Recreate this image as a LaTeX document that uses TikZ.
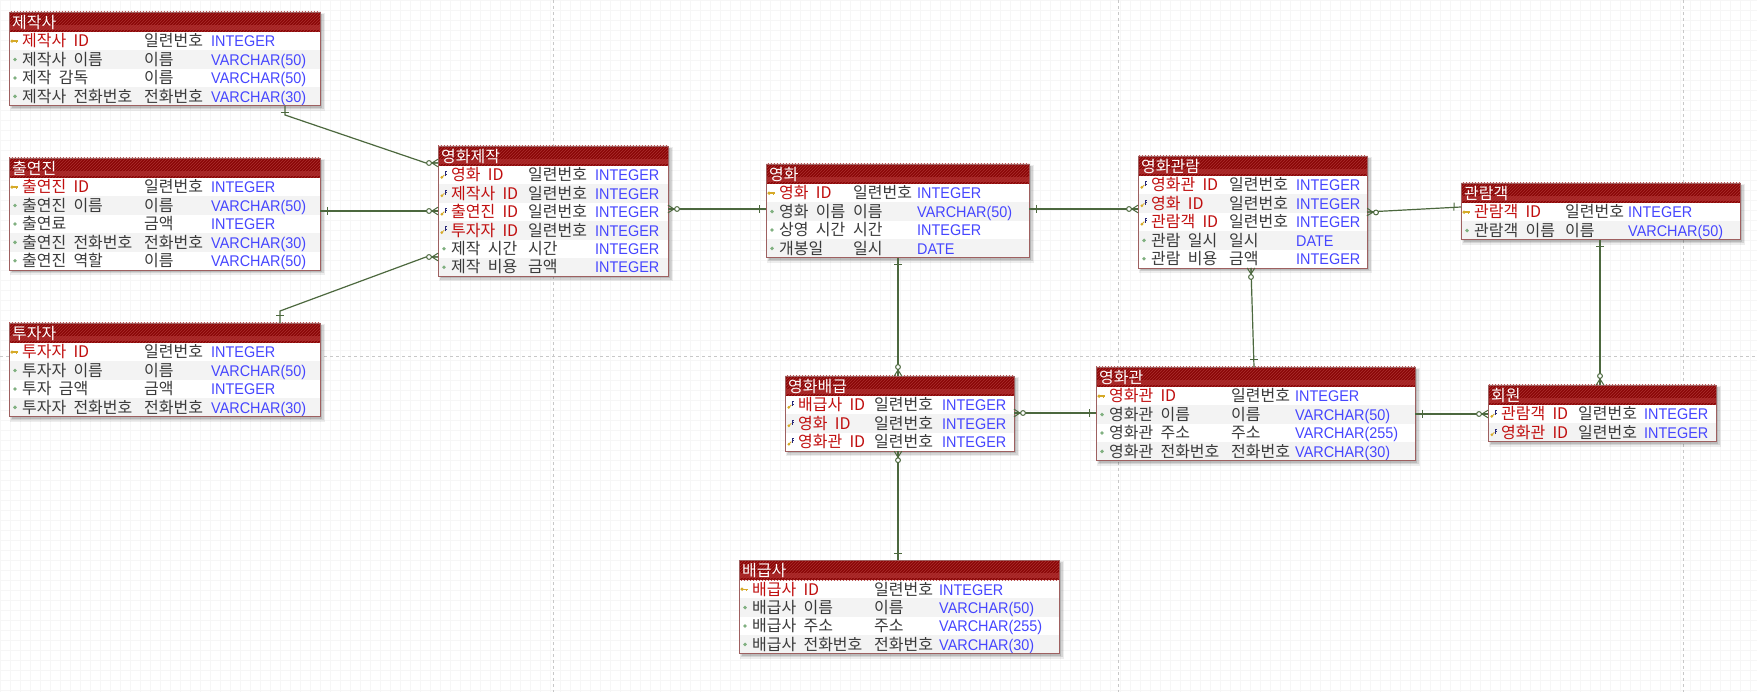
\documentclass[tikz,border=0pt]{standalone}
\usepackage{fontspec}
\setmainfont[WordSpace=2.0]{Noto Sans CJK KR}
\newfontfamily\typefont[FakeStretch=0.93]{Liberation Sans}
\usetikzlibrary{patterns}

\definecolor{hdr}{RGB}{138,6,6}
\definecolor{hdrhatch}{RGB}{172,48,48}
\definecolor{hdrband}{RGB}{190,60,60}
\definecolor{hdrtop}{RGB}{200,110,110}
\definecolor{keyred}{RGB}{192,14,14}
\definecolor{txtgray}{RGB}{58,58,58}
\definecolor{typeblue}{RGB}{70,70,255}
\definecolor{rowgray}{RGB}{243,243,243}
\definecolor{edgecol}{RGB}{158,96,96}
\definecolor{relgreen}{RGB}{76,104,62}
\definecolor{keygold}{RGB}{214,170,40}
\definecolor{fkblue}{RGB}{40,40,120}
\definecolor{dotgreen}{RGB}{128,176,128}
\definecolor{gridcol}{RGB}{246,246,246}
\definecolor{pagedash}{RGB}{200,200,200}

\tikzset{
  rel/.style={draw=relgreen, line width=1.2pt},
  cellname/.style={anchor=base west, inner sep=0pt, font=\fontsize{16}{18}\selectfont},
  celldom/.style={anchor=base west, inner sep=0pt, text=txtgray, font=\fontsize{16}{18}\selectfont},
  celltype/.style={anchor=base west, inner sep=0pt, text=typeblue, font=\typefont\fontsize{15.5}{17}\selectfont},
  tabtitle/.style={anchor=base west, inner sep=0pt, text=white, font=\fontsize{16}{18}\selectfont},
  tablebox/.style={anchor=north west, fill=white, inner sep=0pt, outer sep=0pt},
  % zero-or-many end: crow's foot at the table edge, ring further out
  crowfoot/.pic={
    \draw[rel, line width=1pt] (0,-3.8) -- (6,0) (0,0) -- (6,0) (0,3.8) -- (6,0) -- (6.6,0);
    \draw[rel, line width=1pt, fill=white] (9,0) circle (2.4);
  },
  % exactly-one end: single bar across the line
  onebar/.pic={
    \draw[rel, line width=1pt] (7,-4) -- (7,4);
  }
}

% #1 node name, #2 left, #3 top, #4 width, #5 title,
% #6 domain column x, #7 type column x, #8 rows (kind/name/domain/type)
\newcommand\ertable[8]{%
  \foreach \ic/\nm/\dm/\ty [count=\k] in {#8} {\xdef\nrows{\k}}%
  \pgfmathsetmacro\tabh{20+\nrows*18.4}%
  \fill[black, opacity=.07] (#2+1,#3+1) rectangle (#2+#4+5,#3+\tabh+5);
  \fill[black, opacity=.10] (#2+2,#3+2) rectangle (#2+#4+3.5,#3+\tabh+3.5);
  \fill[black, opacity=.12] (#2+2.5,#3+2.5) rectangle (#2+#4+2,#3+\tabh+2);
  \node[tablebox, minimum width=#4pt, minimum height=\tabh pt] (#1) at (#2,#3) {};
  % title bar
  \fill[hdr] (#2,#3) rectangle (#2+#4,#3+20);
  \fill[hdrband, opacity=.55] (#2,#3+13) rectangle (#2+#4,#3+18);
  \fill[pattern=north east lines, pattern color=hdrhatch] (#2,#3) rectangle (#2+#4,#3+20);
  \draw[hdrtop, line width=1pt] (#2,#3+0.6) -- (#2+#4,#3+0.6);
  \node[tabtitle] (#1-title) at (#2+3,#3+16.5) {#5};
  % attribute rows
  \foreach \ic/\nm/\dm/\ty [count=\k] in {#8} {
    \pgfmathsetmacro\ry{#3+20+(\k-1)*18.4}
    \pgfmathsetmacro\cx{#2+6}
    \pgfmathsetmacro\cy{\ry+9.2}
    \ifodd\k\else \fill[rowgray] (#2,\ry) rectangle (#2+#4,\ry+18.4); \fi
    \def\nmcol{keyred}
    \if a\ic
      \def\nmcol{txtgray}
      \fill[dotgreen] (\cx,\cy) circle (1.9);
    \fi
    \if p\ic
      \fill[keygold] (\cx-3,\cy) circle (1.8);
      \fill[keygold] (\cx-2,\cy-0.7) rectangle (\cx+3,\cy+0.7);
      \fill[keygold] (\cx+1.4,\cy) rectangle (\cx+2.4,\cy+2.2);
    \fi
    \if f\ic
      \fill[keygold] (\cx-2.2,\cy+2.2) circle (1.5);
      \draw[keygold, line width=.8pt] (\cx-2.2,\cy+2.2) -- (\cx+0.3,\cy-0.3);
      \draw[fkblue, line width=.6pt] (\cx+1,\cy+1) -- (\cx+1,\cy-3.6) -- (\cx+3.3,\cy-3.6)
        (\cx+1,\cy-1.3) -- (\cx+2.8,\cy-1.3);
    \fi
    \node[cellname, text=\nmcol] (#1-n\k) at (#2+13,\ry+15) {\nm};
    \node[celldom] (#1-d\k) at (#6,\ry+15) {\dm};
    \node[celltype] (#1-t\k) at (#7,\ry+15) {\ty};
  }
  \draw[edgecol, line width=.8pt] (#1.north west) rectangle (#1.south east);
}

\begin{document}
\begin{tikzpicture}[x=1pt, y=-1pt]
\useasboundingbox (0,0) rectangle (1757,692);
\fill[white] (0,0) rectangle (1757,692);
\draw[gridcol, line width=.4pt, step=10pt] (0,0) grid (1757,692);
\draw[pagedash, line width=.8pt, dash pattern=on 3pt off 3pt]
  (553,0) -- (553,692) (1118,0) -- (1118,692) (1683,0) -- (1683,692) (0,356) -- (1757,356);

\ertable{jejaksa}{9}{12}{311}{제작사}{144}{211}{%
  p/제작사 ID/일련번호/INTEGER,
  a/제작사 이름/이름/VARCHAR(50),
  a/제작 감독/이름/VARCHAR(50),
  a/제작사 전화번호/전화번호/VARCHAR(30)}

\ertable{chulyeon}{9}{158}{311}{출연진}{144}{211}{%
  p/출연진 ID/일련번호/INTEGER,
  a/출연진 이름/이름/VARCHAR(50),
  a/출연료/금액/INTEGER,
  a/출연진 전화번호/전화번호/VARCHAR(30),
  a/출연진 역할/이름/VARCHAR(50)}

\ertable{tuja}{9}{323}{311}{투자자}{144}{211}{%
  p/투자자 ID/일련번호/INTEGER,
  a/투자자 이름/이름/VARCHAR(50),
  a/투자 금액/금액/INTEGER,
  a/투자자 전화번호/전화번호/VARCHAR(30)}

\ertable{jejak}{438}{146}{230}{영화제작}{528}{595}{%
  f/영화 ID/일련번호/INTEGER,
  f/제작사 ID/일련번호/INTEGER,
  f/출연진 ID/일련번호/INTEGER,
  f/투자자 ID/일련번호/INTEGER,
  a/제작 시간/시간/INTEGER,
  a/제작 비용/금액/INTEGER}

\ertable{movie}{766}{164}{263}{영화}{853}{917}{%
  p/영화 ID/일련번호/INTEGER,
  a/영화 이름/이름/VARCHAR(50),
  a/상영 시간/시간/INTEGER,
  a/개봉일/일시/DATE}

\ertable{gwanram}{1138}{156}{229}{영화관람}{1229}{1296}{%
  f/영화관 ID/일련번호/INTEGER,
  f/영화 ID/일련번호/INTEGER,
  f/관람객 ID/일련번호/INTEGER,
  a/관람 일시/일시/DATE,
  a/관람 비용/금액/INTEGER}

\ertable{audience}{1461}{183}{279}{관람객}{1565}{1628}{%
  p/관람객 ID/일련번호/INTEGER,
  a/관람객 이름/이름/VARCHAR(50)}

\ertable{baegeup}{785}{376}{229}{영화배급}{874}{942}{%
  f/배급사 ID/일련번호/INTEGER,
  f/영화 ID/일련번호/INTEGER,
  f/영화관 ID/일련번호/INTEGER}

\ertable{theater}{1096}{367}{319}{영화관}{1231}{1295}{%
  p/영화관 ID/일련번호/INTEGER,
  a/영화관 이름/이름/VARCHAR(50),
  a/영화관 주소/주소/VARCHAR(255),
  a/영화관 전화번호/전화번호/VARCHAR(30)}

\ertable{member}{1488}{385}{228}{회원}{1578}{1644}{%
  f/관람객 ID/일련번호/INTEGER,
  f/영화관 ID/일련번호/INTEGER}

\ertable{distrib}{739}{560}{320}{배급사}{874}{939}{%
  p/배급사 ID/일련번호/INTEGER,
  a/배급사 이름/이름/VARCHAR(50),
  a/배급사 주소/주소/VARCHAR(255),
  a/배급사 전화번호/전화번호/VARCHAR(30)}

% relationships
\draw[rel] (jejaksa.south -| 285,0) -- (285,115) -- (426,163) -- (jejak.west |- 0,163);
\pic[rotate=-90] at (jejaksa.south -| 285,0) {onebar};
\pic[rotate=180] at (jejak.west |- 0,163) {crowfoot};

\draw[rel] (chulyeon.east |- 0,211) -- (jejak.west |- 0,211);
\pic at (chulyeon.east |- 0,211) {onebar};
\pic[rotate=180] at (jejak.west |- 0,211) {crowfoot};

\draw[rel] (tuja.north -| 280,0) -- (280,311) -- (426,257) -- (jejak.west |- 0,257);
\pic[rotate=90] at (tuja.north -| 280,0) {onebar};
\pic[rotate=180] at (jejak.west |- 0,257) {crowfoot};

\draw[rel] (jejak.east |- 0,209) -- (movie.west |- 0,209);
\pic at (jejak.east |- 0,209) {crowfoot};
\pic[rotate=180] at (movie.west |- 0,209) {onebar};

\draw[rel] (movie.east |- 0,209) -- (gwanram.west |- 0,209);
\pic at (movie.east |- 0,209) {onebar};
\pic[rotate=180] at (gwanram.west |- 0,209) {crowfoot};

\draw[rel] (gwanram.east |- 0,212) -- (audience.west |- 0,207);
\pic[rotate=-3] at (gwanram.east |- 0,212) {crowfoot};
\pic[rotate=177] at (audience.west |- 0,207) {onebar};

\draw[rel] (gwanram.south -| 1251,0) -- (theater.north -| 1254,0);
\pic[rotate=-90] at (gwanram.south -| 1251,0) {crowfoot};
\pic[rotate=90] at (theater.north -| 1254,0) {onebar};

\draw[rel] (audience.south -| 1600,0) -- (member.north -| 1600,0);
\pic[rotate=-90] at (audience.south -| 1600,0) {onebar};
\pic[rotate=90] at (member.north -| 1600,0) {crowfoot};

\draw[rel] (movie.south -| 898,0) -- (baegeup.north -| 898,0);
\pic[rotate=-90] at (movie.south -| 898,0) {onebar};
\pic[rotate=90] at (baegeup.north -| 898,0) {crowfoot};

\draw[rel] (baegeup.east |- 0,413) -- (theater.west |- 0,413);
\pic at (baegeup.east |- 0,413) {crowfoot};
\pic[rotate=180] at (theater.west |- 0,413) {onebar};

\draw[rel] (baegeup.south -| 898,0) -- (distrib.north -| 898,0);
\pic[rotate=-90] at (baegeup.south -| 898,0) {crowfoot};
\pic[rotate=90] at (distrib.north -| 898,0) {onebar};

\draw[rel] (theater.east |- 0,414) -- (member.west |- 0,414);
\pic at (theater.east |- 0,414) {onebar};
\pic[rotate=180] at (member.west |- 0,414) {crowfoot};
\end{tikzpicture}
\end{document}
